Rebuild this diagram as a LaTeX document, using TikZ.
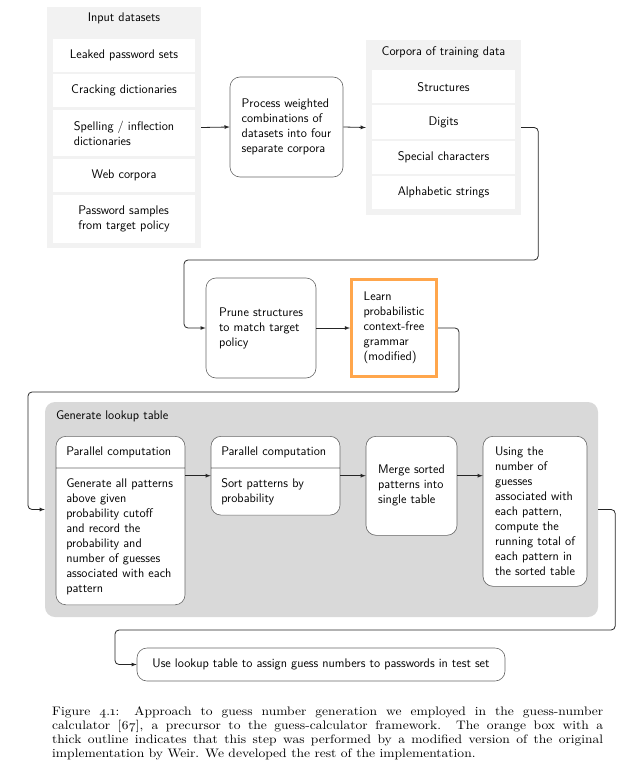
\documentclass[tikz,border=0pt]{standalone}
\usepackage{fontspec}
\usepackage{tikz}
\usetikzlibrary{shapes,shapes.multipart,arrows,positioning}
\newfontfamily\capfont{lmroman10-regular.otf}[FakeStretch=1.10]
\tikzstyle{roundbox} = [rectangle, rounded corners=10pt, draw=black!60, line width=0.6pt, fill=white, align=left, inner sep=10pt]
\tikzstyle{orangebox} = [rectangle, draw=orange!70, line width=3pt, fill=white, align=left, inner sep=10pt]

\begin{document}
\begin{tikzpicture}[
  x=1pt, y=-1pt, >=latex,
  font=\sffamily\fontsize{12.5}{15}\selectfont,
  panel/.style={rectangle, fill=#1, inner sep=0pt},
  entry/.style={rectangle, fill=white, align=left, inner sep=0pt, minimum height=33pt},
  twopart/.style={
    rectangle split,
    rectangle split parts=2,
    rounded corners=10pt,
    draw=black!60,
    line width=0.6pt,
    fill=white,
    text width=108.5pt,
    align=left,
    inner xsep=10.25pt,
    inner ysep=10pt},
  link/.style={->, draw=black!85, line width=0.8pt, rounded corners=4pt}]
  \useasboundingbox (0,0) rectangle (624,773);
  % draw input datasets panel
  \node[panel=black!5, minimum width=154pt, minimum height=241pt] (inp) at (124,127.5) {};
  \node (inptitle) at (124,18) {Input datasets};
  \foreach \y/\h/\t [count=\i] in {55.5/33/Leaked password sets,
      90.5/33/Cracking dictionaries,
      133/46/{Spelling / inflection\\dictionaries},
      175.5/33/Web corpora,
      219/48/{Password samples\\from target policy}}
    \node[entry, minimum width=142pt, minimum height=\h pt] (in\i) at (124,\y) {\t};
  % draw corpora panel
  \node[panel=black!5, minimum width=155pt, minimum height=175pt] (corp) at (443.5,127.5) {};
  \node (corptitle) at (443.5,52) {Corpora of training data};
  \foreach \t [count=\i] in {Structures,Digits,Special characters,Alphabetic strings}
    \node[entry, minimum width=143pt] (c\i) at (443.5,52+35*\i) {\t};
  % draw processing steps
  \node[roundbox, minimum width=113pt, minimum height=100pt] (proc) at (286.5,127)
    {Process weighted\\combinations of\\datasets into four\\separate corpora};
  \node[roundbox, minimum width=110pt, minimum height=100pt] (prune) at (261,328)
    {Prune structures\\to match target\\policy};
  \node[orangebox, minimum width=85pt, minimum height=97pt] (learn) at (394,328)
    {Learn\\probabilistic\\context-free\\grammar\\(modified)};
  % draw lookup table panel
  \node[panel=black!15, rounded corners=10pt, minimum width=553pt, minimum height=215pt] (gen) at (321.5,509.5) {};
  \node[anchor=west] (gentitle) at (52.5,416) {Generate lookup table};
  \node[twopart, anchor=north] (ga) at (120.5,436)
    {Parallel computation
     \nodepart{two}Generate all patterns\\above given\\probability cutoff\\and record the\\probability and\\number of guesses\\associated with each\\pattern};
  \node[twopart, anchor=north] (gb) at (275.5,436)
    {Parallel computation
     \nodepart{two}Sort patterns by\\probability};
  \node[roundbox, anchor=north, minimum width=91pt, minimum height=99pt] (gc) at (411.5,436)
    {Merge sorted\\patterns into\\single table};
  \node[roundbox, anchor=north, minimum width=104pt, minimum height=150pt] (gd) at (535,436)
    {Using the\\number of\\guesses\\associated with\\each pattern,\\compute the\\running total of\\each pattern in\\the sorted table};
  % draw final step
  \node[roundbox, minimum width=368pt, minimum height=33pt, inner sep=3pt] (use) at (321,664.5)
    {Use lookup table to assign guess numbers to passwords in test set};
  % draw straight links
  \draw[link] (inp.east) -- (proc.west);
  \draw[link] (proc.east) -- (corp.west);
  \draw[link] (prune.east) -- (learn.west);
  \draw[link] (ga.east |- gb.west) -- (gb.west);
  \draw[link] (gb.east) -- (gb.east -| gc.west);
  \draw[link] (gb.east -| gc.east) -- (gb.east -| gd.west);
  % draw links that wrap to the next row
  \draw[link] (corp.east) -- ++(17,0) |- (184,260) |- (prune.west);
  \draw[link] (learn.east) -- ++(21,0) |- (28,392) |- (gen.west);
  \draw[link] (gen.east) -- ++(17,0) |- (115,630) |- (use.west);
  % caption
  \node[anchor=north west, text width=551pt, align=justify, inner sep=0pt,
        font=\capfont\fontsize{12.3}{14}\selectfont] (cap) at (52,706)
    {Figure \oldstylenums{4.1}: Approach to guess number generation we employed in the guess-number\linebreak
     calculator [\oldstylenums{67}], a precursor to the guess-calculator framework.\ \ The orange box with a\linebreak
     thick outline indicates that this step was performed by a modified version of the original\linebreak
     implementation by Weir. We developed the rest of the implementation.};
\end{tikzpicture}
\end{document}
